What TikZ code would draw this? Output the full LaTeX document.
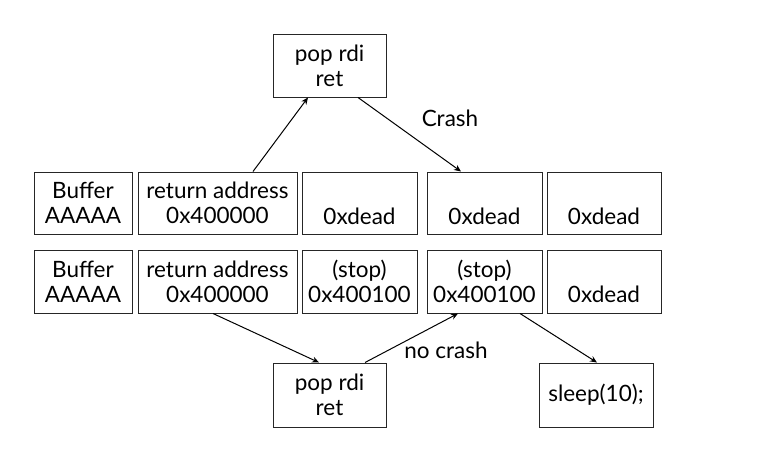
\documentclass[tikz,border=0pt]{standalone}
\usepackage{fontspec}
\setmainfont{Lato}
\usetikzlibrary{arrows.meta}
\begin{document}
\begin{tikzpicture}[x=1pt,y=-1pt,
  cell/.style={draw=black!85,line width=1pt,inner sep=0pt,align=center,font=\fontsize{22.5}{25}\selectfont},
  link/.style={-{Stealth[length=7pt,width=6pt]},line width=1pt},
  lbl/.style={font=\fontsize{22.5}{25}\selectfont,inner sep=0pt}]
\useasboundingbox (0,0) rectangle (773,458);
% top row
\node[cell,minimum width=98pt,minimum height=62pt] (t1) at (83,203) {Buffer\\AAAAA};
\node[cell,minimum width=159pt,minimum height=62pt] (t2) at (217.5,203) {return address\\0x400000};
\node[cell,minimum width=115pt,minimum height=62pt] (t3) at (359.5,203) {\strut\\0xdead};
\node[cell,minimum width=115pt,minimum height=62pt] (t4) at (484.5,203) {\strut\\0xdead};
\node[cell,minimum width=114pt,minimum height=62pt] (t5) at (604,203) {\strut\\0xdead};
% bottom row
\node[cell,minimum width=98pt,minimum height=63pt] (b1) at (83,281.5) {Buffer\\AAAAA};
\node[cell,minimum width=159pt,minimum height=63pt] (b2) at (217.5,281.5) {return address\\0x400000};
\node[cell,minimum width=115pt,minimum height=63pt] (b3) at (359.5,281.5) {(stop)\\0x400100};
\node[cell,minimum width=115pt,minimum height=63pt] (b4) at (484.5,281.5) {(stop)\\0x400100};
\node[cell,minimum width=114pt,minimum height=63pt] (b5) at (604,281.5) {\strut\\0xdead};
% gadgets
\node[cell,minimum width=113pt,minimum height=63pt] (g1) at (329.5,65.5) {pop rdi\\ret};
\node[cell,minimum width=113pt,minimum height=64pt] (g2) at (329.5,395) {pop rdi\\ret};
\node[cell,minimum width=114pt,minimum height=64pt] (s) at (596,395) {sleep(10);};
% arrows
\draw[link] (t2.north -| 253,0) -- (g1.south -| 308,0);
\draw[link] (g1.south -| 358,0) -- (t4.north -| 461,0);
\draw[link] (b2.south -| 213,0) -- (g2.north -| 319,0);
\draw[link] (g2.north -| 365,0) -- (b4.south -| 458,0);
\draw[link] (b4.south -| 520,0) -- (s.north -| 597,0);
% labels
\node[lbl] (crash) at (450,118) {Crash};
\node[lbl] (nocrash) at (446,350) {no crash};
\end{tikzpicture}
\end{document}
